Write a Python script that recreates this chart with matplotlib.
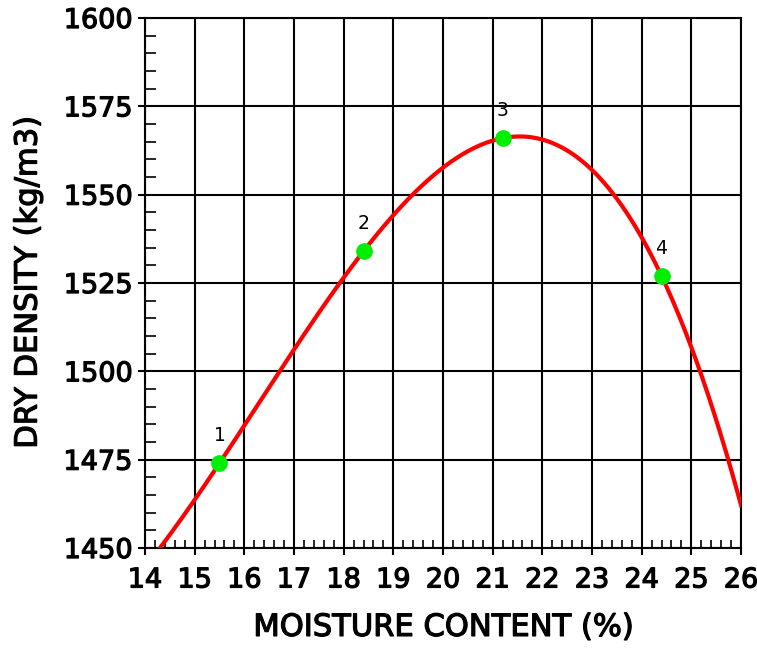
import numpy as np
import matplotlib
matplotlib.use("Agg")
import matplotlib.pyplot as plt
import matplotlib.patheffects as pe
from matplotlib.ticker import MultipleLocator

# compaction test results
moisture = [15.5, 18.4, 21.2, 24.4]
density = [1474, 1534, 1566, 1527]
labels = ["1", "2", "3", "4"]

plt.rcParams['font.family'] = ['DejaVu Sans']
heavy = [pe.withStroke(linewidth=0.9, foreground="black")]

fig = plt.figure(figsize=(7.57, 6.5), dpi=100)
ax = fig.add_axes([0.1915, 0.1569, 0.7874, 0.8154])

# cubic fit through the test points
coef = np.polyfit(moisture, density, 3)
xs = np.linspace(14, 26, 400)
ax.plot(xs, np.polyval(coef, xs), color="#ff0000", lw=3, zorder=3)
ax.plot(moisture, density, "o", color="#00ee00", ms=11, zorder=4)
for x, y, t in zip(moisture, density, labels):
    ax.annotate(t, (x, y), xytext=(0, 13), textcoords="offset points",
                ha="center", va="bottom", fontsize=13.5)

ax.set_xlim(14, 26)
ax.set_ylim(1450, 1600)
ax.xaxis.set_major_locator(MultipleLocator(1))
ax.xaxis.set_minor_locator(MultipleLocator(0.2))
ax.yaxis.set_major_locator(MultipleLocator(25))
ax.yaxis.set_minor_locator(MultipleLocator(5))
ax.grid(True, which="major", color="black", lw=1.5)
ax.tick_params(which="major", direction="out", length=5, width=1.5, labelsize=19.5)
ax.tick_params(axis="x", which="major", pad=9)
ax.tick_params(axis="y", which="major", pad=4)
ax.tick_params(axis="x", which="minor", direction="in", length=6, width=1.2)
ax.tick_params(axis="y", which="minor", direction="in", length=8, width=1.2)
for s in ax.spines.values():
    s.set_linewidth(1.5)
for lab in ax.get_xticklabels() + ax.get_yticklabels():
    lab.set_path_effects(heavy)

ax.set_xlabel("MOISTURE CONTENT (%)", fontsize=22, labelpad=14, path_effects=heavy)
ax.set_ylabel("DRY DENSITY (kg/m3)", fontsize=22, labelpad=15, path_effects=heavy)

fig.savefig("out.png", dpi=100)
